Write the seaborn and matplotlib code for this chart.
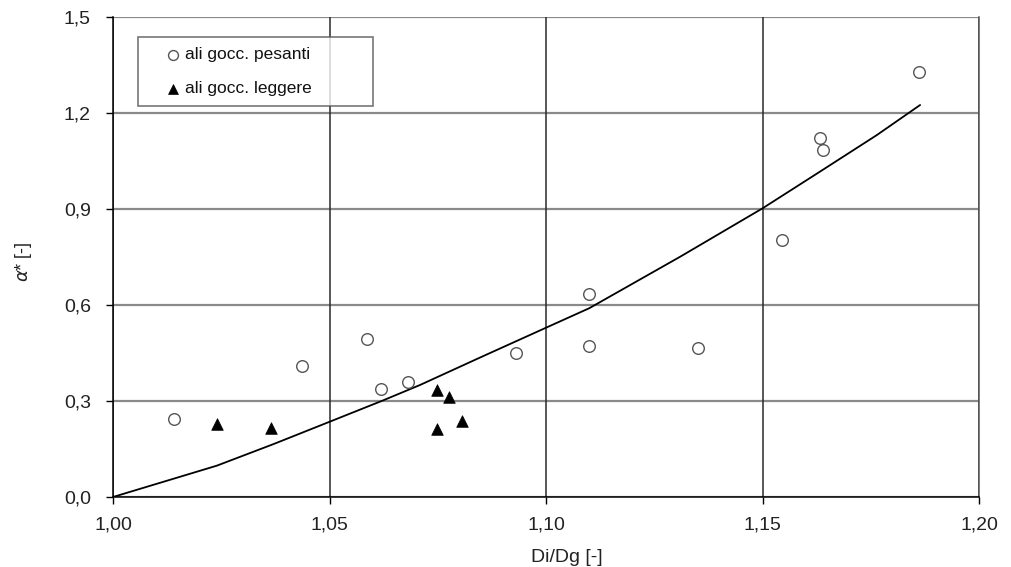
import matplotlib
matplotlib.use("Agg")
import matplotlib.pyplot as plt
import seaborn as sns
import pandas as pd
from matplotlib.ticker import FuncFormatter, FixedLocator

# --- data ---
heavy_x = [1.0141, 1.0436, 1.0586, 1.0620, 1.0682, 1.0931, 1.1099, 1.1099, 1.1352, 1.1546, 1.1633, 1.1640, 1.1861]
heavy_y = [0.244, 0.409, 0.493, 0.338, 0.360, 0.451, 0.633, 0.472, 0.467, 0.803, 1.122, 1.084, 1.328]

light_x = [1.0241, 1.0366, 1.0748, 1.0777, 1.0748, 1.0806]
light_y = [0.227, 0.215, 0.334, 0.311, 0.213, 0.238]

fit_x = [1.000, 1.024, 1.037, 1.050, 1.0624, 1.0709, 1.0848, 1.100, 1.110, 1.131, 1.150, 1.1633, 1.1764, 1.1864]
fit_y = [0.000, 0.098, 0.165, 0.235, 0.302, 0.350, 0.436, 0.529, 0.590, 0.751, 0.902, 1.017, 1.131, 1.225]

x_ticks = [1.00, 1.05, 1.10, 1.15, 1.20]
y_ticks = [0.0, 0.3, 0.6, 0.9, 1.2, 1.5]

label_heavy = "ali gocc. pesanti"
label_light = "ali gocc. leggere"
x_label = "Di/Dg [-]"
y_label = r"$\alpha$* [-]"

sns.set_style("white")
plt.rcParams["font.family"] = ["Liberation Sans", "DejaVu Sans"]
plt.rcParams["mathtext.fontset"] = "dejavusans"

W, H = 1011, 567
L, R, T, B = 113, 979, 17, 497
fig = plt.figure(figsize=(W / 100, H / 100), dpi=100)
ax = fig.add_axes([L / W, 1 - B / H, (R - L) / W, (B - T) / H])

df_heavy = pd.DataFrame({"x": heavy_x, "y": heavy_y})
df_light = pd.DataFrame({"x": light_x, "y": light_y})
df_fit = pd.DataFrame({"x": fit_x, "y": fit_y})

# gridlines
for yv in y_ticks:
    ax.axhline(yv, color="#8a8a8a", lw=1.6, zorder=0)
for xv in x_ticks:
    ax.axvline(xv, color="#2a2a2a", lw=1.1, zorder=0)

sns.lineplot(data=df_fit, x="x", y="y", ax=ax, color="black", lw=1.3,
             sort=False, estimator=None, zorder=3, legend=False)
sns.scatterplot(data=df_heavy, x="x", y="y", ax=ax, marker="o", s=70,
                facecolor="white", edgecolor="#555555", linewidth=1.0,
                zorder=4, label=label_heavy)
sns.scatterplot(data=df_light, x="x", y="y", ax=ax, marker="^", s=70,
                color="black", edgecolor="black", linewidth=0.5,
                zorder=4, label=label_light)

ax.set_xlim(1.00, 1.20)
ax.set_ylim(0.0, 1.5)
ax.xaxis.set_major_locator(FixedLocator(x_ticks))
ax.yaxis.set_major_locator(FixedLocator(y_ticks))
ax.xaxis.set_major_formatter(FuncFormatter(lambda v, p: f"{v:.2f}".replace(".", ",")))
ax.yaxis.set_major_formatter(FuncFormatter(lambda v, p: f"{v:.1f}".replace(".", ",")))
ax.tick_params(axis="both", which="major", direction="out", length=5, width=1,
               color="black", labelsize=14, labelcolor="#222222", bottom=True, left=True)
ax.tick_params(axis="x", pad=9)
ax.tick_params(axis="y", pad=11)

for side in ["left", "bottom"]:
    ax.spines[side].set_color("black")
    ax.spines[side].set_linewidth(1.1)
ax.spines["top"].set_visible(False)
ax.spines["right"].set_color("#555555")
ax.spines["right"].set_linewidth(1.1)

ax.set_xlabel(x_label, fontsize=14, color="#222222")
ax.xaxis.label.set_va("center")
ax.xaxis.set_label_coords((567 - L) / (R - L), (B - 557) / (B - T))
ax.set_ylabel(y_label, fontsize=13, color="#222222")
ax.yaxis.label.set_va("center")
ax.yaxis.set_label_coords((24 - L) / (R - L), (B - 262) / (B - T))

# legend box: x 138..373, top 37
fs = 12.5
fpx = fs * 100 / 72
pad_px = 10
handle_px = 50
leg = ax.legend(loc="upper left",
                bbox_to_anchor=((138 - L) / (R - L), 0.3, (373 - 138) / (R - L), (B - 37) / (B - T) - 0.3),
                mode="expand", frameon=True, fancybox=False, shadow=False, fontsize=fs,
                borderpad=pad_px / fpx, handlelength=handle_px / fpx,
                handletextpad=(185 - (138 + pad_px + handle_px)) / fpx,
                labelspacing=1.09, borderaxespad=0, markerscale=0.85)
leg.get_frame().set_edgecolor("#555555")
leg.get_frame().set_linewidth(1.2)
leg.get_frame().set_boxstyle("square", pad=0)
for t in leg.get_texts():
    t.set_color("#111111")

fig.savefig("out.png", dpi=100)
